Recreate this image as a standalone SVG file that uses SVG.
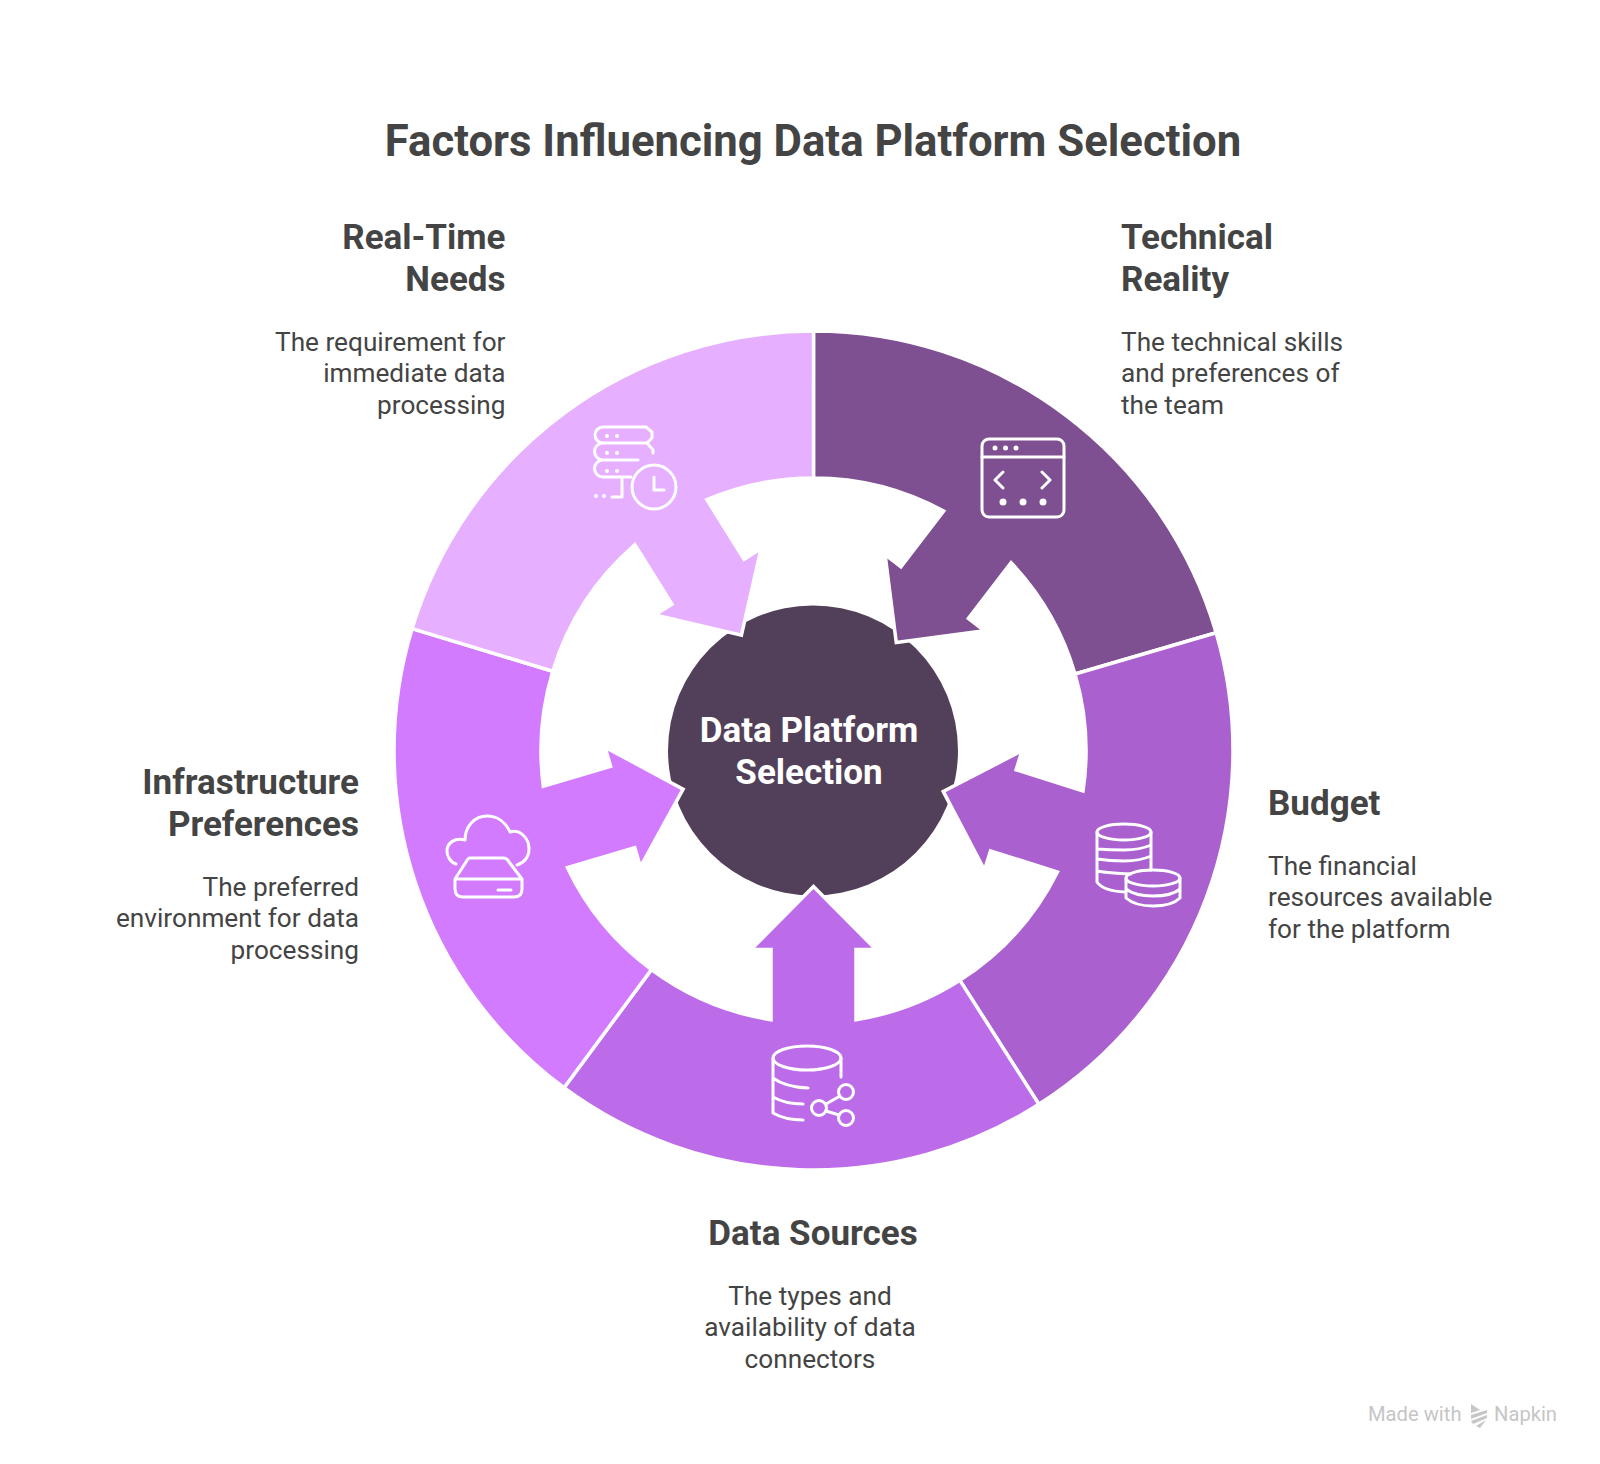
<svg xmlns="http://www.w3.org/2000/svg" width="1600" height="1464" viewBox="0 0 1600 1464">
<style>
text{font-family:Roboto,"Liberation Sans",sans-serif;fill:#444444}
.t{font-size:43.7px;font-weight:700;text-anchor:middle}
.h{font-size:35px;font-weight:700}
.b{font-size:26.2px;font-weight:400}
.e{text-anchor:end}.m{text-anchor:middle}
.seg{stroke:#fff;stroke-width:3.5;stroke-linejoin:miter}
.ic{fill:none;stroke:#fff;stroke-width:3;stroke-linecap:round;stroke-linejoin:round}
.dot{fill:#fff;stroke:none}
.c{font-size:35px;font-weight:700;fill:#fff;text-anchor:middle}
.w{font-size:20.2px;fill:#c6c6c6}
</style>
<rect width="1600" height="1464" fill="#fff"/>
<text class="t" x="813" y="156">Factors Influencing Data Platform Selection</text>
<g id="center"><circle cx="813" cy="750.5" r="145" fill="#523f59"/></g>
<g id="connectors">
<path class="seg" fill="#7e4f91" transform="translate(813.5 750.5) rotate(37.5)" d="M-255.4,-332.8A419.5,419.5 0 0 1 247.8,-338.5L160.9,-219.9A272.5,272.5 0 0 0 42.5,-269.2L42.5,-199L62.5,-199L0,-136L-62.5,-199L-42.5,-199L-42.5,-269.2A272.5,272.5 0 0 0 -165.9,-216.2Z"/>
<path class="seg" fill="#aa61cf" transform="translate(813.5 750.5) rotate(107.5)" d="M-233.4,-348.6A419.5,419.5 0 0 1 269.7,-321.3L175.2,-208.7A272.5,272.5 0 0 0 42.5,-269.2L42.5,-199L62.5,-199L0,-136L-62.5,-199L-42.5,-199L-42.5,-269.2A272.5,272.5 0 0 0 -151.6,-226.4Z"/>
<path class="seg" fill="#bc6ce9" transform="translate(813.5 750.5) rotate(180)" d="M-225.4,-353.8A419.5,419.5 0 0 1 249.5,-337.2L162.1,-219.1A272.5,272.5 0 0 0 42.5,-269.2L42.5,-199L62.5,-199L0,-136L-62.5,-199L-42.5,-199L-42.5,-269.2A272.5,272.5 0 0 0 -146.4,-229.8Z"/>
<path class="seg" fill="#d27bff" transform="translate(813.5 750.5) rotate(253.5)" d="M-252.5,-335A419.5,419.5 0 0 1 230.9,-350.2L150,-227.5A272.5,272.5 0 0 0 42.5,-269.2L42.5,-199L62.5,-199L0,-136L-62.5,-199L-42.5,-199L-42.5,-269.2A272.5,272.5 0 0 0 -164,-217.6Z"/>
<path class="seg" fill="#e6afff" transform="translate(813.5 750.5) rotate(328)" d="M-275.8,-316.1A419.5,419.5 0 0 1 222.3,-355.7L144.4,-231.1A272.5,272.5 0 0 0 42.5,-269.2L42.5,-199L62.5,-199L0,-136L-62.5,-199L-42.5,-199L-42.5,-269.2A272.5,272.5 0 0 0 -179.1,-205.4Z"/>
</g>
<g id="center-label">
<text class="c" x="809" y="742">Data Platform</text>
<text class="c" x="809" y="784">Selection</text>
</g>
<g id="technical-reality">
<text class="h" x="1121" y="249">Technical</text><text class="h" x="1121" y="291">Reality</text>
<text class="b" x="1121" y="351">The technical skills</text><text class="b" x="1121" y="382">and preferences of</text><text class="b" x="1121" y="414">the team</text>
<g class="ic"><rect x="982" y="439" width="82" height="78" rx="7"/><path d="M982 457H1064M1003 472L995 480L1003 488M1042 472L1050 480L1042 488"/></g>
<g class="dot"><circle cx="995" cy="448" r="2.5"/><circle cx="1005.5" cy="448" r="2.5"/><circle cx="1016" cy="448" r="2.5"/><circle cx="1003" cy="502" r="3.5"/><circle cx="1023" cy="502" r="3.5"/><circle cx="1043" cy="502" r="3.5"/></g>
</g>
<g id="budget">
<text class="h" x="1268" y="815">Budget</text>
<text class="b" x="1268" y="875">The financial</text><text class="b" x="1268" y="906">resources available</text><text class="b" x="1268" y="938">for the platform</text>
<g class="ic"><ellipse cx="1124" cy="832" rx="27" ry="8"/><path d="M1097 832V882Q1103 891 1125 892M1151 832V870M1097 849Q1110 850 1124 850Q1140 850 1151 845M1097 859Q1110 861 1124 861Q1140 861 1151 856M1097 871Q1108 873 1131 874"/>
<ellipse cx="1153" cy="878" rx="27" ry="8"/><path d="M1126 878V898Q1135 906 1153 906Q1172 906 1180 898V878M1126 889Q1135 896 1153 896Q1172 896 1180 889"/></g>
</g>
<g id="data-sources">
<text class="h m" x="813" y="1245">Data Sources</text>
<text class="b m" x="810" y="1305">The types and</text><text class="b m" x="810" y="1336">availability of data</text><text class="b m" x="810" y="1368">connectors</text>
<g class="ic"><ellipse cx="807" cy="1058" rx="34" ry="12"/><path d="M773 1058V1113Q785 1120 803 1120M841 1058V1077M773 1078Q785 1087 808 1088M773 1097Q785 1104 803 1104"/>
<circle cx="846" cy="1092" r="7.5"/><circle cx="819" cy="1108" r="7.5"/><circle cx="846" cy="1118" r="7.5"/><path d="M826 1104L840 1096M826 1111L839 1115"/></g>
</g>
<g id="infrastructure-preferences">
<text class="h e" x="359" y="794">Infrastructure</text><text class="h e" x="359" y="836">Preferences</text>
<text class="b e" x="359" y="896">The preferred</text><text class="b e" x="359" y="927">environment for data</text><text class="b e" x="359" y="959">processing</text>
<g class="ic"><path d="M456 864C450 862 447 856 447 851C447 843 455 837 465 840C465 826 475 816 487 816C498 816 506 823 510 832C520 829 529 838 529 849C529 857 524 863 517 865"/>
<path d="M470 858H503Q507 858 509 862L522 879V889Q522 897 514 897H463Q455 897 455 889V879L466 862Q468 858 470 858ZM455 879H522M498 890H511"/></g>
</g>
<g id="real-time-needs">
<text class="h e" x="505.500" y="249">Real-Time</text><text class="h e" x="505.500" y="291">Needs</text>
<text class="b e" x="505.500" y="351">The requirement for</text><text class="b e" x="505.500" y="382">immediate data</text><text class="b e" x="505.500" y="414">processing</text>
<g class="ic"><path d="M603 427H646L652 432V438L647 443H603A8 8 0 0 1 603 427ZM603 443A8.5 8.5 0 0 0 603 460H638M647 443L653 450V453M603 460A8.5 8.5 0 0 0 603 477H631M622 477V497H612"/><circle cx="654" cy="487" r="22"/><path d="M654 477V490H664"/></g>
<g class="dot"><circle cx="607" cy="436" r="2"/><circle cx="617" cy="436" r="2"/><circle cx="607" cy="453" r="2"/><circle cx="617" cy="453" r="2"/><circle cx="607" cy="471" r="2"/><circle cx="617" cy="471" r="2"/><circle cx="596" cy="496" r="2"/><circle cx="604" cy="496" r="2"/></g>
</g>
<g id="watermark">
<text class="w" x="1368" y="1421">Made with</text>
<path fill="#c6c6c6" d="M1471 1404L1480 1410L1471 1413ZM1471 1415L1487 1410L1487 1413L1471 1419ZM1471 1421L1487 1415L1487 1418L1473 1424ZM1476 1426L1486 1420L1480 1428Z"/>
<text class="w" x="1494" y="1421">Napkin</text>
</g>
</svg>
